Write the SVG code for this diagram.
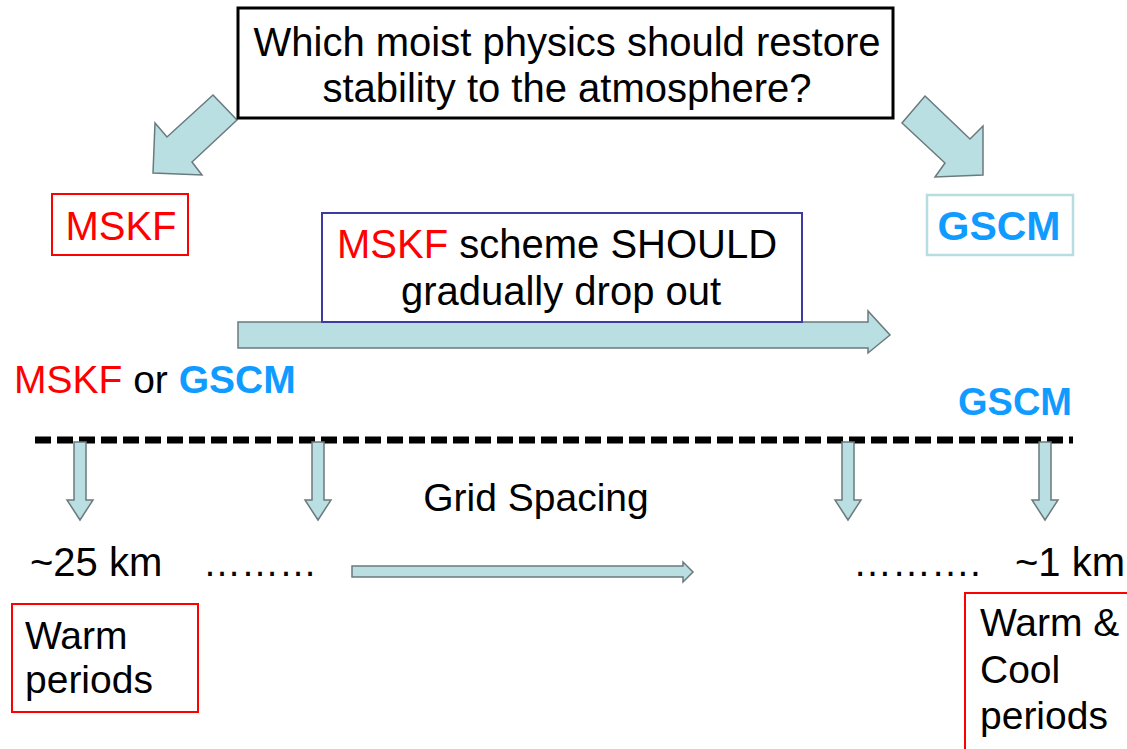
<svg xmlns="http://www.w3.org/2000/svg" width="1127" height="749" viewBox="0 0 1127 749">
<style>
text{font-family:"Liberation Sans",Arial,sans-serif;fill:#000;font-size:40px;}
.red{fill:#ff0000;}
.blue{fill:#0f9bff;font-weight:bold;}
.arr{fill:#b9dfe3;stroke:#6b7a7c;stroke-width:1.5;stroke-linejoin:miter;}
</style>
<rect width="1127" height="749" fill="#fff"/>
<g id="connectors">
<polygon class="arr" points="213,95 237,120 192,162 202,175 153,173 155,123 167,137"/>
<polygon class="arr" points="925,96 970,139 983,126 983,175 935,177 945,163 902,123"/>
<polygon class="arr" points="238,322 868,322 868,311 890,335 868,353 868,348 238,348"/>
<line x1="35" y1="440" x2="1073" y2="440" stroke="#000" stroke-width="7" stroke-dasharray="16,6"/>
<polygon class="arr" points="74,442 86,442 86,500 93,500 80,520 67,500 74,500"/>
<polygon class="arr" points="312,442 324,442 324,500 331,500 318,520 305,500 312,500"/>
<polygon class="arr" points="842,442 854,442 854,500 861,500 848,520 835,500 842,500"/>
<polygon class="arr" points="1039,442 1051,442 1051,500 1058,500 1045,520 1032,500 1039,500"/>
<polygon class="arr" points="352,566 683,566 683,562 693,572 683,582 683,577 352,577"/>
</g>
<g id="question">
<rect x="238" y="8" width="655" height="110" fill="#fff" stroke="#000" stroke-width="3"/>
<text x="567" y="56" text-anchor="middle">Which moist physics should restore</text>
<text x="567" y="102" text-anchor="middle">stability to the atmosphere?</text>
</g>
<g id="mskf-box">
<rect x="52" y="194" width="136" height="61" fill="#fff" stroke="#ff0000" stroke-width="2"/>
<text class="red" x="121" y="240" text-anchor="middle">MSKF</text>
</g>
<g id="gscm-box">
<rect x="927" y="195" width="146" height="60" fill="#fff" stroke="#b7dde0" stroke-width="2.5"/>
<text class="blue" x="999" y="240" text-anchor="middle" style="font-size:41px">GSCM</text>
</g>
<g id="dropout">
<rect x="322" y="213" width="480" height="109" fill="#fff" stroke="#3c3ca0" stroke-width="2"/>
<text x="337" y="258"><tspan class="red">MSKF</tspan> scheme SHOULD</text>
<text x="561" y="305" text-anchor="middle">gradually drop out</text>
</g>
<g id="either">
<text x="14" y="393" style="font-size:39px"><tspan class="red">MSKF</tspan> or <tspan class="blue">GSCM</tspan></text>
</g>
<g id="gscm-right">
<text class="blue" x="1072" y="415" text-anchor="end" style="font-size:38px">GSCM</text>
</g>
<g id="grid">
<text x="536" y="511" text-anchor="middle" style="font-size:39px">Grid Spacing</text>
<text x="30" y="576">~25 km</text>
<text x="203" y="576" style="font-size:38px">………</text>
<text x="853" y="576" style="font-size:39px">……….</text>
<text x="1015" y="576">~1 km</text>
</g>
<g id="warm">
<rect x="12" y="604" width="186" height="108" fill="#fff" stroke="#ff0000" stroke-width="2"/>
<text x="25" y="649" style="font-size:39px">Warm</text>
<text x="25" y="693" style="font-size:39px">periods</text>
</g>
<g id="warmcool">
<rect x="965" y="593" width="175" height="170" fill="#fff" stroke="#ff0000" stroke-width="2"/>
<text x="980" y="636" style="font-size:39px">Warm &amp;</text>
<text x="980" y="683" style="font-size:39px">Cool</text>
<text x="980" y="729" style="font-size:39px">periods</text>
</g>
</svg>
